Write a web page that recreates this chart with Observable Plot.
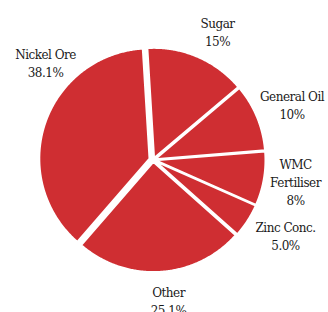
<!DOCTYPE html>
<html><head><meta charset="utf-8">
<script src="https://cdn.jsdelivr.net/npm/d3@7"></script>
<script src="https://cdn.jsdelivr.net/npm/@observablehq/plot@0.6"></script>
<style>html,body{margin:0;padding:0;background:#fff} svg text{letter-spacing:-0.5px}</style>
</head><body><div id="chart"></div>
<script>
// ---- data ----
const categories = ["Sugar", "General Oil", "WMC Fertiliser", "Zinc Conc.", "Other", "Nickel Ore"];
const shares = [15, 10, 8, 5, 25.1, 38.1];
const shareLabels = ["15%", "10%", "8%", "5.0%", "25.1%", "38.1%"];
const nameLines = ["Sugar", "General Oil", "WMC\nFertiliser", "Zinc Conc.", "Other", "Nickel Ore"];

// ---- layout (not data) ----
const W = 328, H = 312;
const CX = 152.8, CY = 159.4, R = 110.2;       // pie centre and radius in pixels
const startAngle = -3.5;                        // degrees, clockwise from north
const explodePx = [2, 2, 2, 2, 2, 4];           // slice explosion
const labelAngle = [26.5, 68.1, 98.5, 119.6, 173.8, 312.3];
const labelDist = [1.306, 1.357, 1.305, 1.38, 1.279, 1.322];
const red = "#cf2e32";
const serifFont = "'DejaVu Serif', serif";

const rad = d => d * Math.PI / 180;
const total = d3.sum(shares);
let acc = startAngle;
const slices = categories.map((c, i) => {
  const a0 = acc, a1 = acc + shares[i] / total * 360;
  acc = a1;
  return {c, i, a0, a1, mid: (a0 + a1) / 2};
});

const pts = [];
for (const s of slices) {
  const e = explodePx[s.i] / R;
  const ox = e * Math.sin(rad(s.mid)), oy = -e * Math.cos(rad(s.mid));
  pts.push({c: s.c, x: ox, y: oy});
  const n = Math.max(2, Math.ceil((s.a1 - s.a0) / 0.5));
  for (let k = 0; k <= n; k++) {
    const a = rad(s.a0 + (s.a1 - s.a0) * k / n);
    pts.push({c: s.c, x: ox + Math.sin(a), y: oy - Math.cos(a)});
  }
  pts.push({c: s.c, x: ox, y: oy});
}

const labels = categories.map((c, i) => ({
  text: nameLines[i] + "\n" + shareLabels[i],
  x: labelDist[i] * Math.sin(rad(labelAngle[i])),
  y: -labelDist[i] * Math.cos(rad(labelAngle[i]))
}));

const chart = Plot.plot({
  width: W, height: H,
  margin: 0,
  style: {background: "#fff", overflow: "visible"},
  x: {domain: [(0 - CX) / R, (W - CX) / R], range: [0, W], axis: null},
  y: {domain: [(0 - CY) / R, (H - CY) / R], range: [0, H], axis: null},
  marks: [
    Plot.line(pts, {x: "x", y: "y", z: "c", fill: red, stroke: "#fff", strokeWidth: 2, strokeLinejoin: "round", curve: "linear"}),
    Plot.text(labels, {x: "x", y: "y", text: "text", textAnchor: "middle", lineAnchor: "middle",
      lineHeight: 1.5, fontSize: 12, fontFamily: serifFont, fill: "#1a1a1a"})
  ]
});
document.getElementById("chart").appendChild(chart);
</script>
</body></html>
